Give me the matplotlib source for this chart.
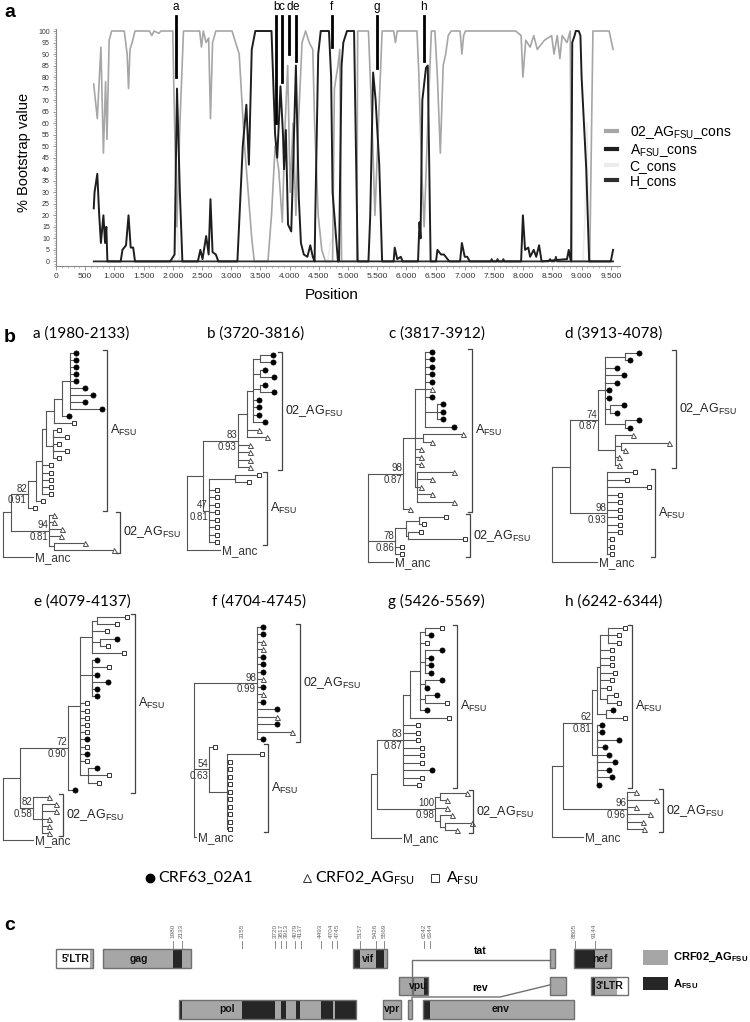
import numpy as np
import matplotlib
matplotlib.use('Agg')
from matplotlib import pyplot as plt
from matplotlib.patches import Rectangle
from matplotlib.ticker import FuncFormatter, MultipleLocator

plt.rcParams['font.family'] = ['Liberation Sans', 'DejaVu Sans']
plt.rcParams['mathtext.default'] = 'regular'

W, H = 750, 1022
LINE = '#555555'
GRAY = '#a6a6a6'
DARK = '#262626'

# ---------------- panel a : bootscan curves (position, % bootstrap) ----------------
curve_ag = [(646, 77), (707, 62), (769, 93), (812, 47), (849, 78), (873, 53), (910, 96), (953, 100),
            (1169, 100), (1218, 90), (1242, 75), (1267, 92), (1304, 95), (1353, 100), (1600, 100),
            (1640, 98), (1680, 100), (1760, 99), (1800, 100), (1999, 100), (2030, 60), (2070, 15),
            (2122, 60), (2183, 100), (2460, 100), (2491, 93), (2522, 100), (2571, 95), (2614, 97),
            (2645, 62), (2681, 95), (2737, 100), (3014, 100), (3137, 90), (3229, 50), (3291, 30),
            (3352, 10), (3395, 0), (3629, 0), (3690, 20), (3752, 50), (3813, 40), (3875, 17),
            (3924, 60), (3967, 85), (4010, 30), (4059, 60), (4108, 20), (4151, 60), (4213, 95),
            (4274, 100), (4336, 95), (4397, 92), (4428, 60), (4490, 20), (4551, 5), (4613, 0),
            (4736, 0), (4767, 75), (4828, 85), (4859, 92), (4890, 0), (5150, 0), (5166, 100),
            (5350, 100), (5412, 60), (5461, 20), (5522, 60), (5584, 100), (5781, 100), (5812, 95),
            (5843, 100), (6181, 100), (6212, 82), (6261, 40), (6304, 15), (6366, 60), (6427, 100),
            (6488, 100), (6531, 80), (6581, 47), (6630, 85), (6673, 90), (6716, 98), (6765, 100),
            (6919, 100), (6950, 90), (6980, 98), (7010, 100), (7872, 100), (7964, 98), (7995, 80),
            (8044, 96), (8118, 93), (8180, 98), (8241, 92), (8364, 96), (8487, 98), (8528, 90),
            (8583, 98), (8628, 88), (8667, 98), (8750, 95), (8805, 100), (8833, 0), (9139, 0),
            (9194, 100), (9472, 100), (9539, 92)]
curve_a = [(646, 23), (660, 30), (707, 38), (740, 20), (769, 8), (790, 14), (812, 20), (840, 8),
           (862, 15), (880, 0), (1107, 0), (1138, 5), (1199, 7), (1242, 20), (1279, 6), (1322, 6),
           (1353, 0), (1956, 0), (2030, 3), (2072, 75), (2121, 30), (2164, 0), (2429, 0), (2472, 5),
           (2509, 1), (2571, 11), (2614, 3), (2645, 27), (2681, 4), (2737, 3), (2780, 0), (3106, 0),
           (3198, 50), (3260, 68), (3303, 42), (3352, 92), (3413, 100), (3690, 100), (3752, 55),
           (3788, 45), (3844, 76), (3887, 55), (3905, 40), (3936, 57), (3973, 16), (4028, 13),
           (4059, 40), (4108, 85), (4157, 28), (4194, 8), (4243, 3), (4305, 2), (4354, 7), (4397, 2),
           (4428, 0), (4440, 20), (4490, 90), (4533, 100), (4674, 100), (4711, 80), (4736, 30),
           (4797, 10), (4828, 0), (4846, 0), (4890, 85), (4920, 95), (4982, 100), (5104, 100),
           (5166, 0), (5350, 0), (5381, 20), (5430, 82), (5473, 70), (5535, 42), (5584, 0),
           (5781, 0), (5800, 6), (5843, 1), (5904, 2), (5935, 0), (6199, 0), (6224, 17), (6242, 10),
           (6273, 70), (6335, 84), (6366, 85), (6415, 0), (6507, 0), (6531, 5), (6593, 3), (6642, 3),
           (6704, 1), (6735, 0), (6919, 0), (6950, 8), (6999, 2), (7042, 2), (7085, 0), (7964, 0),
           (7995, 20), (8032, 5), (8087, 6), (8118, 2), (8180, 5), (8223, 2), (8272, 7), (8315, 0),
           (8750, 1), (8780, 5), (8800, 2), (8820, 0), (8840, 95), (8880, 98), (8900, 100),
           (8950, 100), (8980, 98), (9000, 80), (9050, 55), (9080, 40), (9130, 0), (9500, 0),
           (9539, 5)]
curve_c = [(646, 0), (2030, 0), (2070, 20), (2110, 0), (4650, 0), (4700, 8), (4780, 12), (4850, 0),
           (9020, 0), (9060, 20), (9090, 60), (9130, 0), (9539, 0)]
curve_h = [(646, 0), (7440, 0), (7460, 1), (7480, 0), (7540, 0), (7560, 1), (7580, 0), (7640, 0),
           (7660, 1), (7680, 0), (8440, 0), (8460, 1), (8480, 0), (8540, 0), (8560, 2), (8580, 0),
           (9539, 0)]
series_labels = ['02_AG$_{FSU}$_cons', 'A$_{FSU}$_cons', 'C_cons', 'H_cons']
series_colors = [GRAY, '#1e1e1e', '#ececec', '#2e2e2e']

mark_letters = ['a', 'b', 'c', 'd', 'e', 'f', 'g', 'h']
mark_ranges = [(1980, 2133), (3720, 3816), (3817, 3912), (3913, 4078),
               (4079, 4137), (4704, 4745), (5426, 5569), (6242, 6344)]
mark_bottom = [80, 60, 78, 90, 87, 93, 84, 87]

# ---------------- panel b : trees (newick, branch lengths in px) ----------------
tree_newick = [
    "(((((((((o:4,o:4,o:4,o:4,o:4,o:13,o:21,o:13,o:30):8,o:5):8,s:18):8,((s:4,s:12):0,(s:4,s:12):0,s:4):7):4,"
    "s:7,s:7,s:7,s:7,s:7):6,s:5):8,s:5)82|0.91:17,(t:3,t:3,t:11,t:10,(t:29,t:58):5)94|0.81:38):8,M:30)",
    "((((((o:11,o:11):7,(o:3,o:12):7,(o:3,o:12):7,o:4,o:4,o:4,o:10):6,t:10,t:18):9,t:10,t:10,t:10,t:10)83|0.93:35,"
    "((s:22,s:12):26,s:6,s:6,s:6,s:6,s:6,s:6,s:6,s:6)47|0.81:6):16,M:33)",
    "((((o:5,o:5,o:5,o:5,o:5,t:5,o:5,(o:4,o:4,o:4):12,o:27):10,(t:38,t:7):8,t:4,t:4,t:4,"
    "(t:35,t:13,t:2,t:13,t:35):2):12,t:5)98|0.87:35,(((s:25,s:3):13,(s:11,s:55):2):11,s:5,s:5)78|0.86:27,M:25)",
    "(((((o:12,o:3):20,o:10,o:17,o:10,o:2,o:2,(o:12,o:5):5,(o:12,o:3):20):7,(t:16,(t:46,t:2):6,t:2,t:2):17)74|0.87:28,"
    "(s:26,s:18,s:40,s:11,s:11,s:11,s:11,s:11,s:11,s:3,s:3,s:3)98|0.93:37):18,M:45)",
    "((((((s:28,s:18):5,s:13,(o:15,s:6):8,s:30):12,(o:3,s:15,o:3,(o:14,o:3,o:3):0):12,s:5,s:5,s:5,s:5,s:5,o:5,"
    "s:5,o:5,s:5,(o:7,s:19,s:9):8):12,o:5)72|0.90:48,(t:14,(t:12,t:12,t:5,t:5,t:5):9)82|0.58:13):17,M:30)",
    "((o:4,o:4,t:4,t:4,o:4,o:4,o:4,t:4,o:4,t:4,o:4,o:18,t:18,o:18,t:33,o:4)98|0.99:63,"
    "(s:4,(s:33,s:1,s:1,s:1,s:1,s:1,s:1,s:1,s:1,s:1,s:1):18)54|0.63:15,M:2)",
    "((((((s:15,o:4):5,s:5,(o:15,o:4,o:4,o:4):5,(o:15,o:0):5,(o:10,s:20):5,o:5):10,s:37):7,s:13,s:13,s:13,"
    "s:17,s:17,s:17,o:27,s:17,s:14)83|0.87:26,((t:25,t:5):5,t:10,(t:10,(t:25,t:10):5):5)100|0.98:58):6,M:30)",
    "((((((s:15,s:9,s:9):8,s:10,s:10,s:10,s:13,s:10,s:7,(s:7,s:10):7):3,(o:5,s:17):9):5,"
    "(o:3,o:3,(o:20,o:6):0,(o:10,o:16,o:10,o:13):0,o:0):5)62|0.81:29,((t:7,t:27):0,t:7,(t:21,t:14,t:15):0)96|0.96:64):11,M:31)",
]
A_LAB = 'A$_{FSU}$'
AG_LAB = '02_AG$_{FSU}$'
# clade brackets: (label, first leaf, last leaf)
tree_clades = [
    [(A_LAB, 0, 22), (AG_LAB, 23, 28)],
    [(AG_LAB, 0, 15), (A_LAB, 16, 25)],
    [(A_LAB, 0, 21), (AG_LAB, 22, 27)],
    [(AG_LAB, 0, 15), (A_LAB, 16, 27)],
    [(A_LAB, 0, 24), (AG_LAB, 25, 30)],
    [(AG_LAB, 0, 15), (A_LAB, 16, 27)],
    [(A_LAB, 0, 21), (AG_LAB, 22, 27)],
    [(A_LAB, 0, 21), (AG_LAB, 22, 27)],
]
# layout (px): root x, first leaf y, leaf spacing, bracket x's, title centre
tree_root_x = [3, 187, 368, 552, 3, 194, 371, 552]
tree_top_y = [353, 355, 352, 353, 617, 627, 628, 628]
tree_dy = [7.03, 7.5, 7.5, 7.46, 7.2, 7.5, 7.5, 7.46]
tree_bracket_x = [(107, 120), (282, 267), (472, 470), (676, 655), (135, 63), (300, 268), (457, 473), (632, 663)]
tree_title_x = [81, 256, 437, 614, 82, 259, 436, 614]
tree_title_y = [338, 338, 338, 338, 606, 606, 606, 606]

# ---------------- panel c : genome map (HXB2 coordinates) ----------------
gene_names = ["5'LTR", 'gag', 'pol', 'vif', 'vpr', '', 'vpu', '', 'env', '', '', 'nef', "3'LTR"]
gene_start = [1, 790, 2085, 5041, 5559, 5831, 6062, 5970, 6225, 8379, 8379, 8797, 9086]
gene_end = [634, 2292, 5096, 5619, 5850, 6045, 6310, 6045, 8795, 8469, 8653, 9417, 9719]
gene_row = [0, 0, 2, 0, 2, 1, 1, 2, 2, 0, 1, 0, 1]
gene_label_at = [330, 1400, 2900, 5300, 5705, 0, 6150, 0, 7540, 0, 0, 9230, 9400]
seq_start, seq_end = 585, 9525
breakpoints = [1980, 2133, 3155, 3720, 3817, 3913, 4079, 4137, 4493, 4704, 4745,
               5157, 5426, 5569, 6242, 6344, 8805, 9144]
a_fsu_parts = [(1980, 2133), (3155, 3720), (3817, 3913), (4079, 4137), (4493, 4704),
               (4745, 5157), (5426, 5569), (6242, 6344), (8805, 9144)]


def parse_newick(s):
    pos = 0

    def node():
        nonlocal pos
        n = {'children': [], 'name': '', 'length': 0.0}
        if s[pos] == '(':
            pos += 1
            while True:
                n['children'].append(node())
                if s[pos] == ',':
                    pos += 1
                else:
                    break
            pos += 1
        start = pos
        while pos < len(s) and s[pos] not in ',():':
            pos += 1
        n['name'] = s[start:pos]
        if pos < len(s) and s[pos] == ':':
            pos += 1
            start = pos
            while pos < len(s) and s[pos] not in ',()':
                pos += 1
            n['length'] = float(s[start:pos])
        return n
    return node()


def draw_tree(ax, newick, x0, y0, dy):
    root = parse_newick(newick)
    leaves = []

    def place(n, px):
        n['x'] = px + n['length']
        if n['children']:
            for c in n['children']:
                place(c, n['x'])
            n['y'] = (n['children'][0]['y'] + n['children'][-1]['y']) / 2
        else:
            n['y'] = y0 + len(leaves) * dy
            leaves.append(n)

    def draw(n, px):
        if px is not None:
            ax.plot([px, n['x']], [n['y'], n['y']], color=LINE, lw=0.8)
        if n['children']:
            ax.plot([n['x'], n['x']], [n['children'][0]['y'], n['children'][-1]['y']], color=LINE, lw=0.8)
            for c in n['children']:
                draw(c, n['x'])
            if '|' in n['name']:
                top, bot = n['name'].split('|')
                ax.text(n['x'] - 1, n['y'] - 0.6, top, ha='right', va='bottom', fontsize=7, color='#333')
                ax.text(n['x'] - 1, n['y'] + 1.2, bot, ha='right', va='top', fontsize=7, color='#333')
        elif n['name'] == 'M':
            ax.text(n['x'] + 2, n['y'] + 1, 'M_anc', ha='left', va='center', fontsize=8.5, color='#333')
        elif n['name'] == 'o':
            ax.plot(n['x'] + 2.3, n['y'], 'o', ms=3.7, mfc='black', mec='black', mew=0.5)
        elif n['name'] == 's':
            ax.plot(n['x'] + 2.3, n['y'], 's', ms=3.3, mfc='white', mec='#333', mew=0.7)
        elif n['name'] == 't':
            ax.plot(n['x'] + 2.3, n['y'], '^', ms=3.6, mfc='white', mec='#333', mew=0.6)

    place(root, x0)
    draw(root, None)
    return leaves


fig = plt.figure(figsize=(W / 100, H / 100), dpi=100)

# ---- panel a ----
ax = fig.add_axes([56 / W, 1 - 266 / H, 0.0584 * 9650 / W, (266 - 28.7) / H])
for curve, col, lw in zip([curve_c, curve_ag, curve_h, curve_a],
                          [series_colors[2], series_colors[0], series_colors[3], series_colors[1]],
                          [1.2, 1.2, 1.3, 1.4]):
    p, v = zip(*curve)
    ax.plot(p, v, color=col, lw=lw)
ax.set_xlim(0, 9650)
ax.set_ylim(-2, 101)
for side in ['top', 'right']:
    ax.spines[side].set_visible(False)
for side in ['left', 'bottom']:
    ax.spines[side].set_color('#888888')
    ax.spines[side].set_linewidth(0.8)
ax.xaxis.set_major_locator(MultipleLocator(500))
ax.xaxis.set_minor_locator(MultipleLocator(100))
ax.yaxis.set_major_locator(MultipleLocator(5))
ax.yaxis.set_minor_locator(MultipleLocator(1))
ax.xaxis.set_major_formatter(FuncFormatter(lambda v, _: f'{int(v):,}'.replace(',', '.')))
ax.tick_params(axis='x', labelsize=6, length=3, width=0.6, color='#888', pad=2, labelcolor='#333')
ax.tick_params(axis='y', labelsize=5, length=2.5, width=0.6, color='#888', pad=2, labelcolor='#333')
ax.tick_params(which='minor', length=1.5, width=0.5, color='#999')

for letter, (r0, r1), low in zip(mark_letters, mark_ranges, mark_bottom):
    mid = (r0 + r1) / 2
    ax.plot([mid, mid], [low, 106.5], color='black', lw=2.0, clip_on=False, zorder=5)
    ax.text(mid, 108, letter, ha='center', va='bottom', fontsize=8.5, clip_on=False)

handles = [plt.Line2D([], [], color=c, lw=3) for c in series_colors]
ax.legend(handles, series_labels, loc='upper left', bbox_to_anchor=(606 / W, 1 - 124 / H),
          bbox_transform=fig.transFigure, frameon=False, fontsize=10, handlelength=0.8,
          handletextpad=0.9, labelspacing=0.05, borderaxespad=0, borderpad=0)

fig.text(24 / W, 1 - 152 / H, '% Bootstrap value', rotation=90, ha='center', va='center', fontsize=10.5)
fig.text(332 / W, 1 - 295 / H, 'Position', ha='center', va='center', fontsize=11)

# ---- overlay in pixel coordinates ----
ov = fig.add_axes([0, 0, 1, 1])
ov.set_xlim(0, W)
ov.set_ylim(H, 0)
ov.axis('off')
ov.patch.set_visible(False)

for lab, y in [('a', 17), ('b', 342), ('c', 930)]:
    ov.text(4, y, lab, fontsize=14, fontweight='bold', va='baseline', ha='left')

for i in range(8):
    leaves = draw_tree(ov, tree_newick[i], tree_root_x[i], tree_top_y[i], tree_dy[i])
    for (lab, i0, i1), bx in zip(tree_clades[i], tree_bracket_x[i]):
        ya, yb = leaves[i0]['y'] - 3, leaves[i1]['y'] + 3
        ov.plot([bx - 4, bx, bx, bx - 4], [ya, ya, yb, yb], color='#444', lw=0.9)
        ov.text(bx + 3, (ya + yb) / 2, lab, ha='left', va='center', fontsize=9, color='#222')
    letter = mark_letters[i]
    r0, r1 = mark_ranges[i]
    ov.text(tree_title_x[i], tree_title_y[i], f'{letter} ({r0}-{r1})', ha='center', va='baseline',
            fontsize=11, family=['Lato', 'DejaVu Sans'])

# symbol legend
ov.plot(150, 878, 'o', ms=6, mfc='black', mec='black')
ov.text(158, 878, 'CRF63_02A1', va='center', fontsize=11.5, family=['Lato', 'DejaVu Sans'])
ov.plot(307, 878, '^', ms=6, mfc='white', mec='#333', mew=0.7)
ov.text(315, 878, 'CRF02_AG$_{FSU}$', va='center', fontsize=11.5, family=['Lato', 'DejaVu Sans'])
ov.plot(435, 878, 's', ms=5.5, mfc='white', mec='#333', mew=0.7)
ov.text(446, 878, 'A$_{FSU}$', va='center', fontsize=11.5, family=['Lato', 'DejaVu Sans'])

# ---- panel c : genome map ----
gx = fig.add_axes([0, 0, 1, 1])
gx.set_xlim(-56 / 0.0589, (W - 56) / 0.0589)
gx.set_ylim(H, 0)
gx.axis('off')
gx.patch.set_visible(False)
rows = [(949, 968), (977, 995), (1000, 1019)]

for name, s, e, r, lx in zip(gene_names, gene_start, gene_end, gene_row, gene_label_at):
    y0, y1 = rows[r]
    gx.add_patch(Rectangle((s, y0), e - s, y1 - y0, fc='white', ec='none'))
    lo, hi = max(s, seq_start), min(e, seq_end)
    if hi > lo:
        gx.add_patch(Rectangle((lo, y0), hi - lo, y1 - y0, fc=GRAY, ec='none'))
    for a0, a1 in a_fsu_parts:
        lo, hi = max(s, a0), min(e, a1)
        if hi > lo:
            gx.add_patch(Rectangle((lo, y0), hi - lo, y1 - y0, fc=DARK, ec='none'))
    gx.add_patch(Rectangle((s, y0), e - s, y1 - y0, fc='none', ec='#707070', lw=1.0))
    if name:
        gx.text(lx, (y0 + y1) / 2, name, ha='center', va='center',
                fontsize=7.5, fontweight='bold', color='#111')

gx.plot([6045, 6045, 8379], [977, 960, 960], color='#707070', lw=1.0)
gx.text(7200, 956, 'tat', ha='center', va='bottom', fontsize=7.5, fontweight='bold')
gx.plot([6045, 6045, 7540, 8379], [1000, 997, 997, 985], color='#707070', lw=1.0)
gx.text(7200, 988, 'rev', ha='center', va='center', fontsize=7.5, fontweight='bold')

# spread the breakpoint labels so close ones stay readable
lab_x = [float(b) for b in breakpoints]
sep = 88
for _ in range(60):
    for k in range(1, len(lab_x)):
        gap = lab_x[k] - lab_x[k - 1]
        if gap < sep:
            d = (sep - gap) / 2
            lab_x[k - 1] -= d
            lab_x[k] += d
for b, lx in zip(breakpoints, lab_x):
    gx.plot([lx, lx], [941, 948], color='#777', lw=0.6)
    gx.text(lx, 938, str(b), rotation=90, ha='center', va='bottom', fontsize=4.6, color='#666')

ov.add_patch(Rectangle((643, 950), 25, 15, fc=GRAY, ec='none'))
ov.add_patch(Rectangle((643, 977), 25, 13, fc=DARK, ec='none'))
ov.text(673, 957, 'CRF02_AG$_{FSU}$', va='center', fontsize=8, fontweight='bold')
ov.text(673, 984, 'A$_{FSU}$', va='center', fontsize=8, fontweight='bold')

fig.savefig('out.png', dpi=100)
